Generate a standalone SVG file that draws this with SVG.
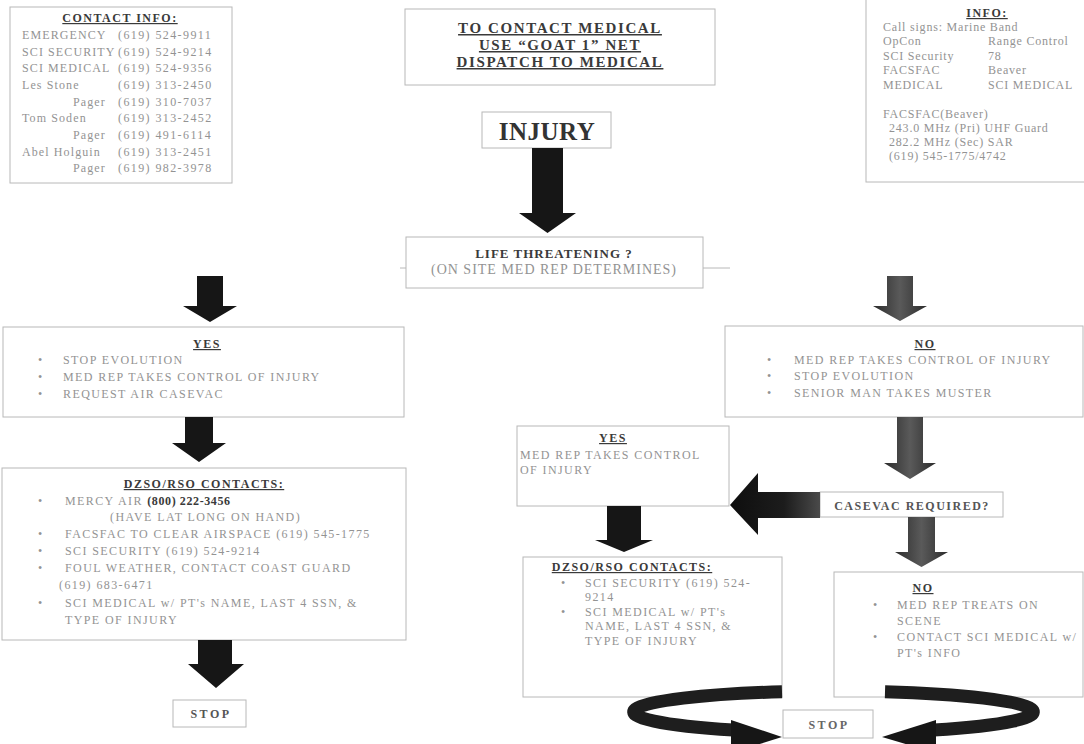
<svg xmlns="http://www.w3.org/2000/svg" width="1084" height="744" viewBox="0 0 1084 744">
  <defs>
    <style>
      .box { fill: #ffffff; stroke: #b8b8b8; stroke-width: 1; }
      .t { font-family: "Liberation Serif", "Times New Roman", serif; font-size: 12px; fill: #939393; letter-spacing: 1.4px; }
      .h { font-family: "Liberation Serif", "Times New Roman", serif; font-size: 12px; font-weight: bold; fill: #3a3a3a; letter-spacing: 1.5px; text-decoration: underline; }
      .c { text-anchor: middle; }
      .b { font-weight: bold; fill: #3a3a3a; letter-spacing: 0.6px; }
      .n { letter-spacing: 1.1px; }
      .arr { fill: #161616; }
      .arrg { fill: url(#grayV); }
      .ring { fill: none; stroke: #1e1e1e; stroke-width: 13; }
      .thin { stroke: #b8b8b8; stroke-width: 1; }
    </style>
    <linearGradient id="grayV" x1="0" y1="0" x2="1" y2="0">
      <stop offset="0" stop-color="#2c2c2c"/>
      <stop offset="0.5" stop-color="#5a5a5a"/>
      <stop offset="1" stop-color="#2c2c2c"/>
    </linearGradient>
    <linearGradient id="leftArr" x1="0" y1="0" x2="1" y2="0">
      <stop offset="0" stop-color="#0e0e0e"/>
      <stop offset="0.6" stop-color="#1c1c1c"/>
      <stop offset="1" stop-color="#4a4a4a"/>
    </linearGradient>
  </defs>

  <rect width="1084" height="744" fill="#ffffff"/>

  <!-- contact list, top left -->
  <g id="contact-info">
    <rect class="box" x="10" y="7" width="222" height="176"/>
    <text class="h c" x="120" y="22">CONTACT INFO:</text>
    <text class="t n" x="22" y="39">EMERGENCY</text><text class="t" x="118" y="39">(619) 524-9911</text>
    <text class="t n" x="22" y="56">SCI SECURITY</text><text class="t" x="118" y="56">(619) 524-9214</text>
    <text class="t n" x="22" y="72">SCI MEDICAL</text><text class="t" x="118" y="72">(619) 524-9356</text>
    <text class="t n" x="22" y="89">Les Stone</text><text class="t" x="118" y="89">(619) 313-2450</text>
    <text class="t n" x="73" y="106">Pager</text><text class="t" x="118" y="106">(619) 310-7037</text>
    <text class="t n" x="22" y="122">Tom Soden</text><text class="t" x="118" y="122">(619) 313-2452</text>
    <text class="t n" x="73" y="139">Pager</text><text class="t" x="118" y="139">(619) 491-6114</text>
    <text class="t n" x="22" y="156">Abel Holguin</text><text class="t" x="118" y="156">(619) 313-2451</text>
    <text class="t n" x="73" y="172">Pager</text><text class="t" x="118" y="172">(619) 982-3978</text>
  </g>

  <!-- radio info, top right -->
  <g id="info">
    <rect class="box" x="866" y="-1" width="220" height="183"/>
    <text class="h c" x="987" y="17">INFO:</text>
    <text class="t" x="883" y="31" style="letter-spacing:0.8px">Call signs: Marine Band</text>
    <text class="t" x="883" y="45" style="letter-spacing:0.8px">OpCon</text><text class="t" x="988" y="45" style="letter-spacing:0.8px">Range Control</text>
    <text class="t" x="883" y="60" style="letter-spacing:0.8px">SCI Security</text><text class="t" x="988" y="60" style="letter-spacing:0.8px">78</text>
    <text class="t" x="883" y="74" style="letter-spacing:0.8px">FACSFAC</text><text class="t" x="988" y="74" style="letter-spacing:0.8px">Beaver</text>
    <text class="t" x="883" y="89" style="letter-spacing:0.8px">MEDICAL</text><text class="t" x="988" y="89" style="letter-spacing:0.8px">SCI MEDICAL</text>
    <text class="t" x="883" y="118" style="letter-spacing:0.8px">FACSFAC(Beaver)</text>
    <text class="t" x="889" y="132" style="letter-spacing:0.8px">243.0 MHz (Pri) UHF Guard</text>
    <text class="t" x="889" y="146" style="letter-spacing:0.8px">282.2 MHz (Sec) SAR</text>
    <text class="t" x="889" y="160" style="letter-spacing:0.8px">(619) 545-1775/4742</text>
  </g>

  <!-- dispatch note, top centre -->
  <g id="dispatch">
    <rect class="box" x="405" y="9" width="310" height="76"/>
    <text class="h c" x="560" y="33" style="font-size:15px;letter-spacing:1.6px">TO CONTACT MEDICAL</text>
    <text class="h c" x="560" y="50" style="font-size:15px;letter-spacing:1.6px">USE “GOAT 1” NET</text>
    <text class="h c" x="560" y="67" style="font-size:15px;letter-spacing:1.6px">DISPATCH TO MEDICAL</text>
  </g>

  <g id="injury">
    <rect class="box" x="482" y="112" width="129" height="36"/>
    <text class="t c" x="547" y="140" style="font-size:25px;font-weight:bold;fill:#333;letter-spacing:0.5px">INJURY</text>
  </g>

  <g id="life-threatening">
    <rect class="box" x="406" y="237" width="297" height="51"/>
    <text class="t c" x="554" y="258" style="font-size:13px;font-weight:bold;fill:#3a3a3a;letter-spacing:1px">LIFE THREATENING ?</text>
    <text class="t c" x="554" y="274" style="font-size:14px;letter-spacing:1px">(ON SITE MED REP DETERMINES)</text>
  </g>

  <g id="yes-left">
    <rect class="box" x="3" y="327" width="401" height="90"/>
    <text class="h c" x="207" y="348">YES</text>
    <text class="t" x="38" y="364">•</text><text class="t" x="63" y="364">STOP EVOLUTION</text>
    <text class="t" x="38" y="381">•</text><text class="t" x="63" y="381">MED REP TAKES CONTROL OF INJURY</text>
    <text class="t" x="38" y="398">•</text><text class="t" x="63" y="398">REQUEST AIR CASEVAC</text>
  </g>

  <g id="dzso-left">
    <rect class="box" x="2" y="468" width="404" height="172"/>
    <text class="h c" x="204" y="488">DZSO/RSO CONTACTS:</text>
    <text class="t" x="38" y="505">•</text><text class="t" x="65" y="505">MERCY AIR <tspan class="b">(800) 222-3456</tspan></text>
    <text class="t" x="110" y="521">(HAVE LAT LONG ON HAND)</text>
    <text class="t" x="38" y="538">•</text><text class="t" x="65" y="538">FACSFAC TO CLEAR AIRSPACE (619) 545-1775</text>
    <text class="t" x="38" y="555">•</text><text class="t" x="65" y="555">SCI SECURITY (619) 524-9214</text>
    <text class="t" x="38" y="572">•</text><text class="t" x="65" y="572">FOUL WEATHER, CONTACT COAST GUARD</text>
    <text class="t" x="59" y="589">(619) 683-6471</text>
    <text class="t" x="38" y="607">•</text><text class="t" x="65" y="607">SCI MEDICAL w/ PT's NAME, LAST 4 SSN, &amp;</text>
    <text class="t" x="65" y="624">TYPE OF INJURY</text>
  </g>

  <g id="stop-left">
    <rect class="box" x="173" y="700" width="73" height="27"/>
    <text class="t c" x="211" y="718" style="font-weight:bold;fill:#555;letter-spacing:2.5px">STOP</text>
  </g>

  <g id="no-right">
    <rect class="box" x="725" y="326" width="358" height="91"/>
    <text class="h c" x="925" y="348">NO</text>
    <text class="t" x="767" y="364">•</text><text class="t" x="794" y="364">MED REP TAKES CONTROL OF INJURY</text>
    <text class="t" x="767" y="380">•</text><text class="t" x="794" y="380">STOP EVOLUTION</text>
    <text class="t" x="767" y="397">•</text><text class="t" x="794" y="397">SENIOR MAN TAKES MUSTER</text>
  </g>

  <g id="yes-mid">
    <rect class="box" x="517" y="426" width="212" height="80"/>
    <text class="h c" x="613" y="442">YES</text>
    <text class="t" x="520" y="459">MED REP TAKES CONTROL</text>
    <text class="t" x="520" y="474">OF INJURY</text>
  </g>

  <g id="casevac">
    <rect class="box" x="820" y="492" width="183" height="25"/>
    <text class="t c" x="912" y="510" style="font-weight:bold;fill:#555;letter-spacing:1.5px">CASEVAC REQUIRED?</text>
  </g>

  <g id="dzso-mid">
    <rect class="box" x="523" y="557" width="259" height="140"/>
    <text class="h c" x="632" y="571">DZSO/RSO CONTACTS:</text>
    <text class="t" x="561" y="587">•</text><text class="t" x="585" y="587">SCI SECURITY (619) 524-</text>
    <text class="t" x="585" y="601">9214</text>
    <text class="t" x="561" y="616">•</text><text class="t" x="585" y="616">SCI MEDICAL w/ PT's</text>
    <text class="t" x="585" y="630">NAME, LAST 4 SSN, &amp;</text>
    <text class="t" x="585" y="645">TYPE OF INJURY</text>
  </g>

  <g id="no-bottom">
    <rect class="box" x="834" y="572" width="249" height="125"/>
    <text class="h c" x="923" y="592">NO</text>
    <text class="t" x="873" y="609">•</text><text class="t" x="897" y="609">MED REP TREATS ON</text>
    <text class="t" x="897" y="625">SCENE</text>
    <text class="t" x="873" y="641">•</text><text class="t" x="897" y="641">CONTACT SCI MEDICAL w/</text>
    <text class="t" x="897" y="657">PT's INFO</text>
  </g>

  <g id="stop-right">
    <rect class="box" x="783" y="710" width="90" height="28"/>
    <text class="t c" x="829" y="729" style="font-weight:bold;fill:#666;letter-spacing:2.5px">STOP</text>
  </g>

  <!-- block arrows and connectors -->
  <g id="connectors">
    <line class="thin" x1="400" y1="268" x2="406" y2="268"/>
    <line class="thin" x1="703" y1="268" x2="730" y2="268"/>

    <!-- INJURY down to LIFE THREATENING -->
    <polygon class="arr" points="532,148 563,148 563,213 576,213 547.5,233 519,213 532,213"/>
    <!-- down to YES (left) -->
    <polygon class="arr" points="197,276 223,276 223,306 237,306 210,322 183,306 197,306"/>
    <!-- YES (left) down to DZSO/RSO -->
    <polygon class="arr" points="185,417 213,417 213,443 226,443 199,462 172,443 185,443"/>
    <!-- DZSO/RSO down to STOP -->
    <polygon class="arr" points="198,640 232,640 232,664 244,664 216,688 188,664 198,664"/>

    <!-- down to NO (right) -->
    <polygon class="arrg" points="887,276 913,276 913,306 927,306 900,321 873,306 887,306"/>
    <!-- NO down to CASEVAC REQUIRED? -->
    <polygon class="arrg" points="897,417 923,417 923,463 936,463 910,479 884,463 897,463"/>
    <!-- CASEVAC REQUIRED? down to NO -->
    <polygon class="arrg" points="908,517 935,517 935,552 948,552 921.5,567 895,552 908,552"/>
    <!-- CASEVAC REQUIRED? left to YES -->
    <polygon fill="url(#leftArr)" points="820,492 820,518 758,518 758,535 730,505 758,473 758,492"/>
    <!-- YES (mid) down to DZSO/RSO -->
    <polygon class="arr" points="607,506 641,506 641,540 653,540 624,552 595,540 607,540"/>

    <!-- looping arrows into STOP -->
    <path class="ring" d="M782,691.7 A202.5,21 0 0 0 733,730"/>
    <polygon class="arr" points="731,720 782,737 731,753"/>
    <path class="ring" d="M885,691.7 A202.5,21 0 0 1 934,730"/>
    <polygon class="arr" points="936,720 882,737 936,753"/>
  </g>
</svg>
